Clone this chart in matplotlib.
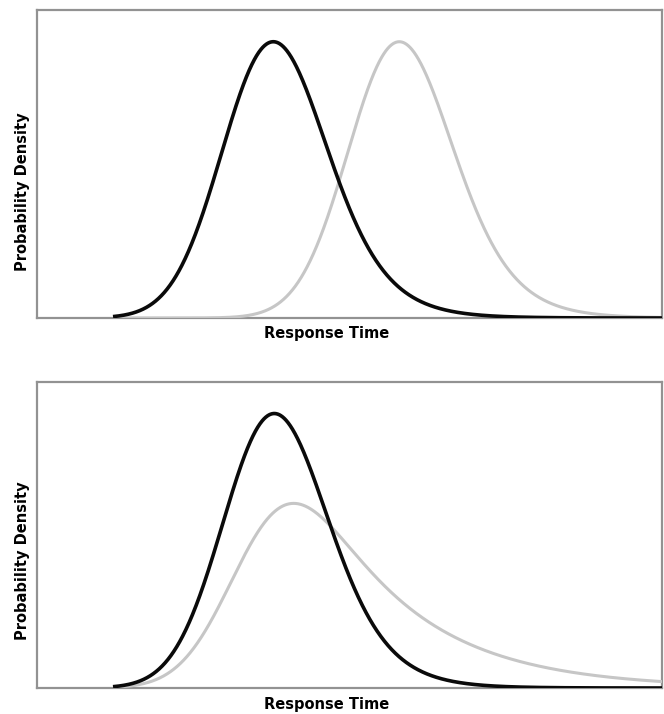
import numpy as np
import matplotlib
matplotlib.use("Agg")
import matplotlib.pyplot as plt
from math import erf

# Ex-Gaussian parameters (x units: pixel positions across the panel, 37..662)
x_start = 113.0
x_end = 662.0
top_black = dict(mu=247.0, sigma=46.0, tau=34.0)
top_gray = dict(mu=373.0, sigma=46.0, tau=34.0)
bot_black = dict(mu=248.0, sigma=46.0, tau=34.0)
bot_gray = dict(mu=245.0, sigma=46.0, tau=100.0)
peak_black = 0.897  # fraction of axes height at black peak

xlabel = "Response Time"
ylabel = "Probability Density"


def exgauss(x, mu, sigma, tau):
    z = (x - mu) / sigma - sigma / tau
    phi = 0.5 * (1 + np.vectorize(erf)(z / np.sqrt(2)))
    return (1.0 / tau) * np.exp((mu - x) / tau + sigma**2 / (2 * tau**2)) * phi


x = np.linspace(x_start, x_end, 1500)

W, H = 664, 714
fig = plt.figure(figsize=(W / 100, H / 100), dpi=100)
ax1 = fig.add_axes([37 / W, 1 - 318 / H, 625 / W, 308 / H])
ax2 = fig.add_axes([37 / W, 1 - 688 / H, 625 / W, 306 / H])

black = "#0a0a0a"
gray = "#c6c6c6"

layout = [
    (ax1, top_black, top_gray, (318 - 338) / 308, (318 - 191.5) / 308),
    (ax2, bot_black, bot_gray, (688 - 709) / 306, (688 - 561) / 306),
]

for ax, pb, pg, xl_y, yl_y in layout:
    yb = exgauss(x, **pb)
    yg = exgauss(x, **pg)
    scale = peak_black / yb.max()
    ax.plot(x, yg * scale, color=gray, lw=2.2, solid_capstyle="butt", zorder=3)
    ax.plot(x, yb * scale, color=black, lw=2.6, solid_capstyle="butt", zorder=4)
    ax.set_xlim(37, 662)
    ax.set_ylim(0, 1)
    ax.set_xticks([])
    ax.set_yticks([])
    for s in ax.spines.values():
        s.set_color("#929292")
        s.set_linewidth(1.6)
    ax.set_xlabel(xlabel, fontsize=10.5, fontweight="bold", family="DejaVu Sans")
    ax.set_ylabel(ylabel, fontsize=10.5, fontweight="bold", family="DejaVu Sans")
    ax.xaxis.label.set_verticalalignment("baseline")
    ax.xaxis.set_label_coords((326.5 - 37) / 625, xl_y)
    ax.yaxis.label.set_verticalalignment("center")
    ax.yaxis.label.set_horizontalalignment("center")
    ax.yaxis.set_label_coords((22.5 - 37) / 625, yl_y)

fig.savefig("out.png", dpi=100)
